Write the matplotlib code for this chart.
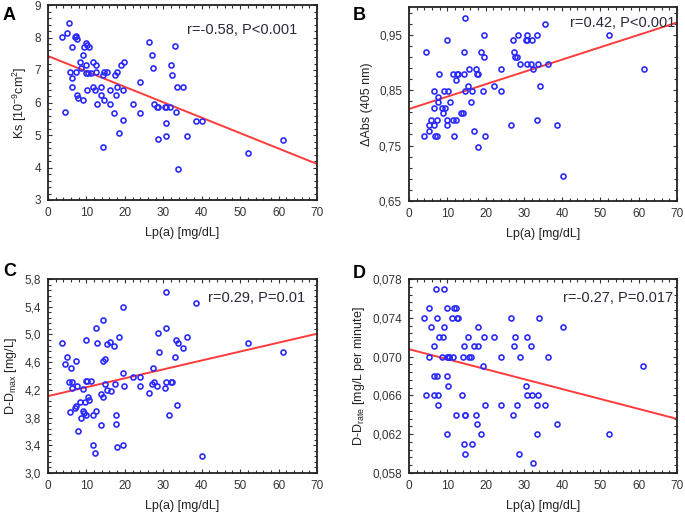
import numpy as np
import matplotlib
matplotlib.use("Agg")
import matplotlib.pyplot as plt
from matplotlib.ticker import AutoMinorLocator, FuncFormatter, MultipleLocator

plt.rcParams['font.family'] = ['Liberation Sans', 'DejaVu Sans']

# ---- panel A : Ks vs Lp(a)
a_x = [3.7, 5.0, 5.4, 4.4, 5.7, 6.3, 6.3, 6.3, 7.0, 7.2, 7.6, 7.2, 7.6, 7.8, 8.3, 8.7,
       9.0, 9.1, 9.4, 10.0, 10.2, 10.7, 9.8, 10.0, 10.4, 10.2, 11.1, 11.6, 11.7, 12.2,
       12.6, 12.4, 12.8, 13.7, 13.9, 14.2, 14.6, 14.6, 14.3, 15.4, 16.1, 16.1, 17.1,
       17.4, 17.7, 18.0, 18.0, 18.5, 19.1, 19.6, 19.6, 19.8, 22.0, 23.9, 23.9, 26.3,
       27.0, 27.2, 27.6, 28.3, 28.7, 28.5, 30.4, 30.7, 30.7, 30.7, 31.7, 31.9, 32.2,
       33.0, 33.2, 33.5, 33.7, 35.2, 36.3, 38.4, 40.0, 52.0, 61.1]
a_y = [8.03, 8.13, 8.44, 5.72, 6.95, 7.72, 6.74, 6.47, 8.03, 8.05, 7.95, 6.95, 6.23, 6.13,
       7.26, 7.05, 7.46, 6.08, 7.72, 7.84, 7.77, 7.72, 7.15, 6.90, 6.90, 6.37, 6.90, 7.26,
       6.47, 6.37, 7.15, 6.95, 5.95, 6.47, 6.23, 6.85, 6.95, 6.08, 4.64, 6.95, 6.37, 5.95,
       5.67, 6.85, 6.23, 6.95, 6.47, 5.05, 7.15, 6.37, 5.46, 7.26, 5.95, 6.64, 5.67, 7.85,
       7.46, 7.05, 5.95, 5.85, 5.85, 4.87, 5.85, 5.85, 5.36, 4.97, 5.85, 7.15, 6.85, 7.74,
       5.72, 6.47, 3.94, 6.47, 4.97, 5.44, 5.44, 4.46, 4.85]
a_fit = [7.43, 4.11]  # line value at Lp(a)=0 and Lp(a)=70
a_ticks = [3, 4, 5, 6, 7, 8, 9]

# ---- panel B : delta Abs vs Lp(a)
b_x = [3.9, 4.4, 5.1, 5.1, 5.7, 6.4, 6.4, 6.5, 6.8, 7.2, 7.4, 7.5, 7.7, 7.9, 8.5, 9.0,
       9.2, 9.5, 10.0, 10.0, 10.0, 10.3, 10.7, 11.4, 11.6, 11.8, 12.3, 12.6, 12.9, 12.4,
       13.7, 14.0, 14.4, 14.4, 14.6, 14.7, 15.5, 15.8, 16.2, 16.4, 17.1, 17.5, 17.7, 17.9,
       18.1, 18.7, 19.3, 19.6, 19.6, 19.8, 22.1, 24.1, 24.1, 26.6, 27.1, 27.5, 27.7, 28.2,
       28.6, 29.0, 30.6, 30.9, 30.9, 30.9, 31.8, 32.1, 32.5, 33.4, 33.4, 33.6, 34.1, 35.6,
       36.4, 38.6, 40.2, 52.2, 61.3]
b_y = [0.767, 0.918, 0.777, 0.788, 0.797, 0.849, 0.818, 0.788, 0.767, 0.767, 0.797, 0.838,
       0.828, 0.879, 0.818, 0.808, 0.849, 0.818, 0.940, 0.797, 0.788, 0.849, 0.828, 0.797,
       0.879, 0.767, 0.868, 0.879, 0.879, 0.797, 0.808, 0.808, 0.918, 0.879, 0.849, 0.981,
       0.858, 0.888, 0.828, 0.849, 0.777, 0.888, 0.879, 0.879, 0.747, 0.918, 0.849, 0.950,
       0.909, 0.767, 0.858, 0.888, 0.849, 0.788, 0.940, 0.918, 0.909, 0.909, 0.950, 0.898,
       0.940, 0.950, 0.940, 0.898, 0.898, 0.940, 0.888, 0.950, 0.797, 0.898, 0.858, 0.970,
       0.898, 0.788, 0.696, 0.950, 0.888]
b_fit = [0.816, 0.972]
b_ticks = [0.65, 0.75, 0.85, 0.95]

# ---- panel C : D-Dmax vs Lp(a)
c_x = [3.7, 4.3, 5.0, 5.4, 5.7, 6.1, 6.3, 6.3, 7.0, 7.2, 7.2, 7.6, 7.8, 8.3, 8.7, 9.0,
       9.1, 9.3, 9.6, 10.0, 9.8, 10.2, 10.0, 10.4, 10.7, 11.3, 11.6, 11.7, 12.2, 12.4,
       12.6, 12.8, 13.7, 13.9, 14.2, 14.3, 14.3, 14.8, 14.8, 15.4, 15.4, 16.1, 16.3, 17.1,
       17.4, 17.7, 17.8, 18.0, 18.5, 19.4, 19.6, 19.6, 19.8, 22.0, 23.9, 23.9, 26.3, 27.0,
       27.2, 27.6, 28.3, 28.5, 29.0, 30.4, 30.7, 30.7, 30.7, 31.6, 31.9, 32.2, 33.0, 33.2,
       33.5, 33.7, 35.2, 36.3, 38.4, 40.0, 52.0, 61.1]
c_y = [4.88, 4.58, 4.68, 4.32, 3.88, 4.51, 4.32, 4.23, 3.94, 3.97, 4.61, 4.25, 3.61, 4.03,
       3.79, 3.89, 4.21, 3.86, 4.03, 4.92, 4.33, 4.33, 3.84, 4.10, 4.06, 4.33, 3.41, 3.84,
       3.29, 5.09, 3.90, 4.88, 3.69, 4.14, 4.61, 5.21, 4.10, 4.65, 4.28, 4.86, 4.20, 4.89,
       4.19, 4.84, 4.28, 3.71, 3.84, 3.38, 4.97, 3.41, 5.39, 4.44, 4.25, 4.39, 4.39, 4.25,
       4.15, 4.28, 4.51, 4.32, 4.25, 5.02, 4.75, 4.23, 5.61, 5.09, 4.32, 3.84, 4.32, 4.32,
       4.68, 4.92, 3.98, 4.87, 4.80, 4.97, 5.46, 3.24, 4.87, 4.74]
c_fit = [4.11, 5.01]
c_ticks = [3.0, 3.4, 3.8, 4.2, 4.6, 5.0, 5.4, 5.8]

# ---- panel D : D-Drate vs Lp(a)
d_x = [3.9, 4.4, 5.1, 5.3, 5.7, 6.4, 6.4, 6.5, 7.0, 7.2, 7.4, 7.5, 7.5, 7.9, 8.5, 9.0,
       9.2, 9.2, 10.0, 9.9, 10.1, 10.4, 10.5, 10.0, 10.3, 10.0, 11.2, 11.6, 11.8, 12.3,
       12.4, 12.6, 12.9, 13.8, 14.0, 14.4, 14.4, 14.5, 14.7, 14.7, 15.5, 15.8, 16.2, 16.4,
       17.1, 17.5, 17.7, 17.9, 18.1, 18.7, 19.3, 19.6, 19.8, 22.1, 24.1, 24.1, 26.6, 27.1,
       27.5, 27.7, 28.3, 28.7, 29.0, 30.6, 30.9, 30.9, 31.8, 32.1, 32.3, 33.4, 33.4, 33.8,
       34.0, 35.6, 36.4, 38.6, 40.2, 52.2, 61.1]
d_y = [0.074, 0.066, 0.070, 0.075, 0.073, 0.0711, 0.068, 0.066, 0.077, 0.074, 0.068, 0.066,
       0.065, 0.072, 0.070, 0.072, 0.077, 0.073, 0.075, 0.070, 0.070, 0.070, 0.070, 0.068,
       0.067, 0.062, 0.074, 0.070, 0.075, 0.075, 0.064, 0.074, 0.074, 0.066, 0.070, 0.0711,
       0.061, 0.064, 0.064, 0.060, 0.072, 0.070, 0.070, 0.061, 0.0711, 0.064, 0.063, 0.0711,
       0.073, 0.062, 0.069, 0.072, 0.065, 0.072, 0.070, 0.065, 0.074, 0.064, 0.0711, 0.072,
       0.065, 0.060, 0.070, 0.067, 0.066, 0.072, 0.0711, 0.066, 0.059, 0.062, 0.065, 0.066,
       0.074, 0.065, 0.070, 0.063, 0.073, 0.062, 0.069]
d_fit = [0.07076, 0.06358]
d_ticks = [0.058, 0.062, 0.066, 0.070, 0.074, 0.078]

fit_x = [0, 70]

panels = [
    dict(letter='A', x=a_x, y=a_y, fit=a_fit, ticks=a_ticks, fmt=lambda v: '%d' % round(v),
         ylabel='Ks [10$^{\\mathregular{-9}}$cm$^{\\mathregular{2}}$]',
         note='r=-0.58, P<0.001', pos=[48, 5, 317, 200], npos=(0.926, 0.872),
         lpos=(3, 15)),
    dict(letter='B', x=b_x, y=b_y, fit=b_fit, ticks=b_ticks, ylim=(0.65, 1.0),
         fmt=lambda v: ('%.2f' % v).replace('.', ','),
         ylabel='\u0394Abs (405 nm)',
         note='r=0.42, P<0.001', pos=[409, 7, 677, 201], npos=(0.993, 0.918),
         lpos=(353, 15)),
    dict(letter='C', x=c_x, y=c_y, fit=c_fit, ticks=c_ticks,
         fmt=lambda v: ('%.1f' % v).replace('.', ','),
         ylabel='D-D$_{\\mathregular{max}}$ [mg/L]',
         note='r=0.29, P=0.01', pos=[48, 279, 317, 473], npos=(0.955, 0.902),
         lpos=(3, 272)),
    dict(letter='D', x=d_x, y=d_y, fit=d_fit, ticks=d_ticks,
         fmt=lambda v: ('%.3f' % v).replace('.', ','),
         ylabel='D-D$_{\\mathregular{rate}}$ [mg/L per minute]',
         note='r=-0.27, P=0.017', pos=[409, 279, 677, 473], npos=(0.985, 0.902),
         lpos=(353, 274)),
]

W, H = 685, 516
fig = plt.figure(figsize=(W / 100, H / 100), dpi=100)

for p in panels:
    l, t, r, b = p['pos']
    ax = fig.add_axes([l / W, 1 - b / H, (r - l) / W, (b - t) / H])
    ax.plot(p['x'], p['y'], 'o', ms=3.6, mfc='none', mec='#2b2bff', mew=1.2, zorder=3)
    ax.plot(fit_x, p['fit'], color='#ff3b3b', lw=1.4, zorder=2)
    ax.set_xlim(0, 70)
    ax.set_yticks(p['ticks'])
    ax.set_ylim(*p.get('ylim', (p['ticks'][0], p['ticks'][-1])))
    ax.xaxis.set_major_locator(MultipleLocator(10))
    ax.xaxis.set_minor_locator(AutoMinorLocator(5))
    ax.yaxis.set_minor_locator(AutoMinorLocator(5))
    ax.yaxis.set_major_formatter(FuncFormatter(lambda v, pos, f=p['fmt']: f(v)))
    ax.tick_params(which='both', direction='in', top=True, right=True,
                   colors='#333333', labelcolor='#333333', labelsize=8.5, width=0.8)
    ax.tick_params(which='major', length=3, pad=5)
    ax.tick_params(which='minor', length=2)
    for s in ax.spines.values():
        s.set_linewidth(1.3)
        s.set_color('#222222')
    ax.set_xlabel('Lp(a) [mg/dL]', fontsize=9, color='#222222', labelpad=6)
    ax.set_ylabel(p['ylabel'], fontsize=9, color='#222222', labelpad=4)
    ax.text(p['npos'][0], p['npos'][1], p['note'], transform=ax.transAxes,
            ha='right', va='center', fontsize=10.5, color='#2a2a3a')
    fig.text(p['lpos'][0] / W, 1 - p['lpos'][1] / H, p['letter'], fontsize=13,
             fontweight='bold', ha='left', va='center')

fig.savefig('out.png', dpi=100)
